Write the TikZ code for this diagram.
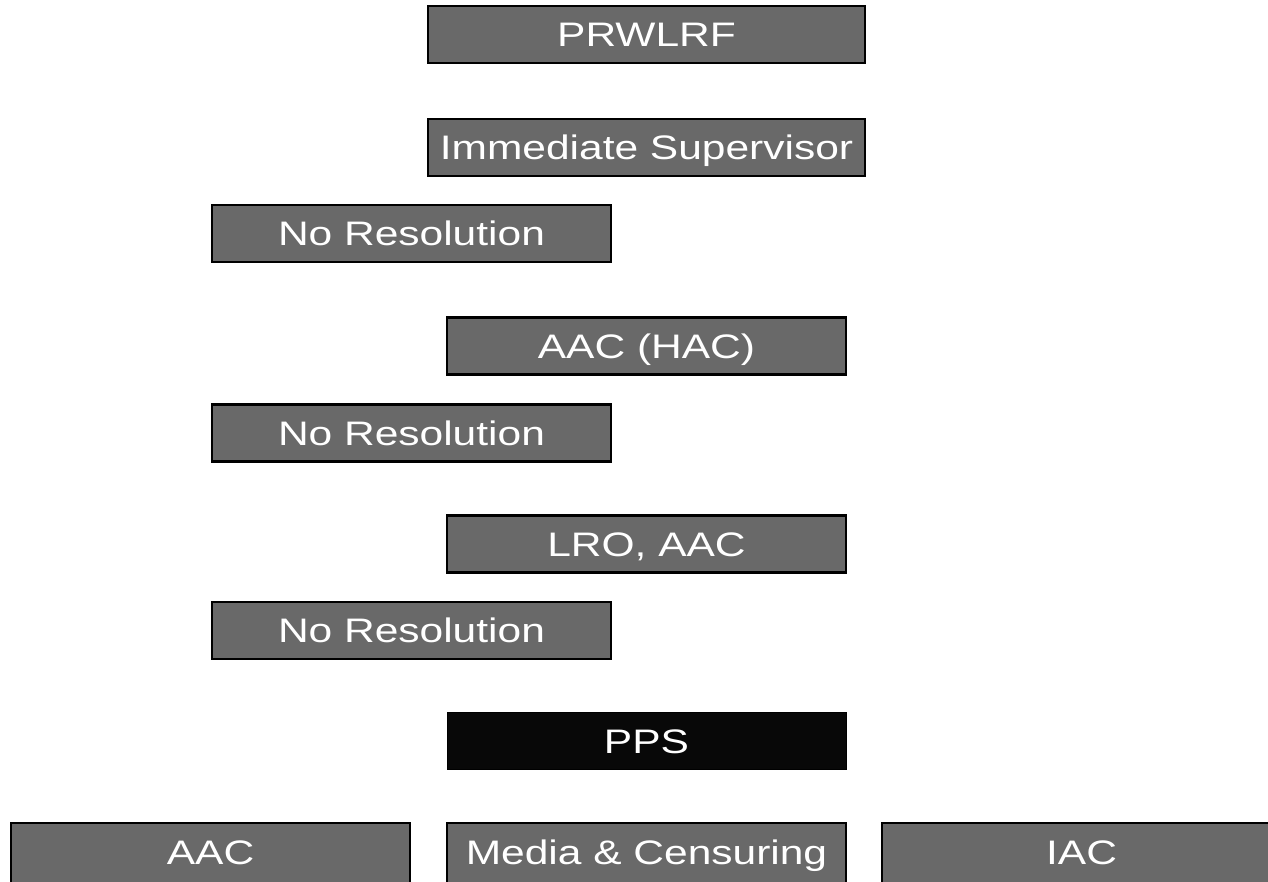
\documentclass[tikz,border=0pt]{standalone}
\usepackage{fontspec}
\setmainfont{Liberation Sans}
\definecolor{boxgray}{RGB}{105,105,105}
\definecolor{boxblack}{RGB}{8,8,8}
\newcommand{\wtxt}[1]{\scalebox{1.25}[1]{#1}}
\begin{document}
\begin{tikzpicture}[x=1pt, y=-1pt,
    stage/.style={draw=black, line width=2.2pt, fill=boxgray, text=white,
      minimum width=399pt, minimum height=57pt, inner sep=0pt,
      text height=24pt, text depth=0pt,
      font=\fontsize{34}{39}\selectfont},
    widestage/.style={stage, minimum width=437pt},
    cutstage/.style={stage, minimum height=64pt, text depth=6pt}]
  \useasboundingbox (0,0) rectangle (1268,881);
  \clip (0,0) rectangle (1268,881);
  % chain of escalation
  \node[widestage] (prwlrf) at (646.5,34.5) {\wtxt{PRWLRF}};
  \node[widestage] (super) at (646.5,147.5) {\wtxt{Immediate Supervisor}};
  \node[stage] (nores1) at (411.5,233.5) {\wtxt{No Resolution}};
  \node[stage] (hac) at (646.5,346) {\wtxt{AAC (HAC)}};
  \node[stage] (nores2) at (411.5,433) {\wtxt{No Resolution}};
  \node[stage] (lro) at (646.5,544) {\wtxt{LRO, AAC}};
  \node[stage] (nores3) at (411.5,630.5) {\wtxt{No Resolution}};
  \node[stage, fill=boxblack, line width=0.8pt] (pps) at (646.5,741) {\wtxt{PPS}};
  % bottom row, cut off by the page edge
  \node[cutstage] (aac) at (210.5,855) {\wtxt{AAC}};
  \node[cutstage] (media) at (646.5,855) {\wtxt{Media \& Censuring}};
  \node[cutstage] (iac) at (1081.5,855) {\wtxt{IAC}};
\end{tikzpicture}
\end{document}
